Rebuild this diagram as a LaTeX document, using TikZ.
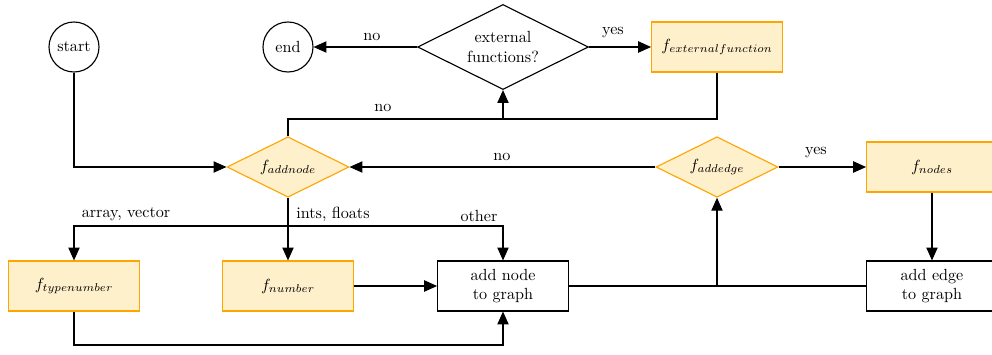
\documentclass[tikz,border=0pt]{standalone}
\usetikzlibrary{shapes.geometric,arrows.meta}
\definecolor{fnborder}{HTML}{FFA500}
\definecolor{fnfill}{HTML}{FFF0CC}
\begin{document}
\begin{tikzpicture}[x=0.62pt,y=-0.62pt,
  line/.style={draw, line width=0.75pt},
  arr/.style={line, -{Triangle[length=8pt,width=7pt]}},
  term/.style={circle, draw, line width=0.7pt, minimum size=31pt, inner sep=0pt},
  proc/.style={rectangle, draw, line width=0.7pt, minimum width=81pt, minimum height=31pt, align=center},
  fnbox/.style={proc, draw=fnborder, fill=fnfill},
  decide/.style={diamond, aspect=2, draw, line width=0.7pt, inner sep=0pt, align=center},
  fndecide/.style={decide, draw=fnborder, fill=fnfill, minimum width=75.6pt, minimum height=37.5pt},
  lbl/.style={inner sep=1pt}]
\useasboundingbox (0,0) rectangle (992,354);

% terminals
\node[term] (start) at (74,47) {start};
\node[term] (end) at (288,47) {end};

% decisions
\node[decide, minimum width=106pt, minimum height=52.7pt] (ext) at (503,47) {external\\functions?};
\node[fndecide] (addnode) at (288,167) {$f_{addnode}$};
\node[fndecide] (addedge) at (717,167) {$f_{addedge}$};

% function boxes
\node[fnbox] (fext) at (717,47) {$f_{externalfunction}$};
\node[fnbox] (fnodes) at (932,167) {$f_{nodes}$};
\node[fnbox] (ftype) at (74,286) {$f_{typenumber}$};
\node[fnbox] (fnum) at (288,286) {$f_{number}$};

% graph operations
\node[proc] (addn) at (503,286) {add node\\to graph};
\node[proc] (adde) at (932,286) {add edge\\to graph};

% junction points
\coordinate (j1) at (503,119);
\coordinate (split) at (288,226);
\coordinate (j2) at (717,286);
\coordinate (bot) at (74,345);

% connectors
\draw[arr] (start) |- (addnode);
\draw[arr] (ext) -- (end);
\draw[arr] (ext) -- (fext);
\draw[line] (addnode.north) |- (j1);
\draw[line] (fext.south) |- (j1);
\draw[arr] (j1) -- (ext.south);
\draw[arr] (addedge) -- (addnode);
\draw[arr] (addedge) -- (fnodes);
\draw[arr] (fnodes) -- (adde);
\draw[arr] (addnode) -- (fnum);
\draw[arr] (split) -| (ftype);
\draw[arr] (split) -| (addn);
\draw[arr] (fnum) -- (addn);
\draw[arr] (ftype) -- (bot) -| (addn);
\draw[line] (addn) -- (adde);
\draw[arr] (j2) -- (addedge);

% labels
\node[lbl] at (372,37) {no};
\node[lbl] at (383,108) {no};
\node[lbl] at (613,33) {yes};
\node[lbl] at (502,157) {no};
\node[lbl] at (816,153) {yes};
\node[lbl] at (126,214) {array, vector};
\node[lbl] at (333,214) {ints, floats};
\node[lbl] at (479,216) {other};
\end{tikzpicture}
\end{document}
